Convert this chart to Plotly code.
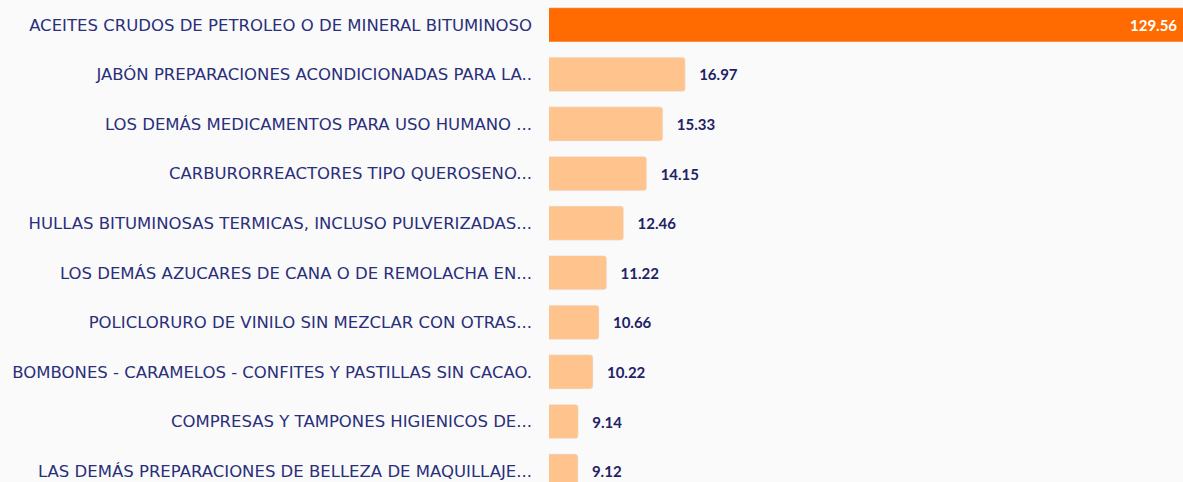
import plotly.graph_objects as go

# Data
products = [
    "ACEITES CRUDOS DE PETROLEO O DE MINERAL BITUMINOSO",
    "JABÓN PREPARACIONES ACONDICIONADAS PARA LA..",
    "LOS DEMÁS MEDICAMENTOS PARA USO HUMANO ...",
    "CARBURORREACTORES TIPO QUEROSENO...",
    "HULLAS BITUMINOSAS TERMICAS, INCLUSO PULVERIZADAS...",
    "LOS DEMÁS AZUCARES DE CANA O DE REMOLACHA EN...",
    "POLICLORURO DE VINILO SIN MEZCLAR CON OTRAS...",
    "BOMBONES - CARAMELOS - CONFITES Y PASTILLAS SIN CACAO.",
    "COMPRESAS Y TAMPONES HIGIENICOS DE...",
    "LAS DEMÁS PREPARACIONES DE BELLEZA DE MAQUILLAJE...",
]
values = [129.56, 16.97, 15.33, 14.15, 12.46, 11.22, 10.66, 10.22, 9.14, 9.12]

TOP_COLOR = "#FF6B00"
REST_COLOR = "#FFC48D"
NAVY = "#1E2266"
LABEL_COLOR = "#2A2F7A"
BG = "#FAFAFA"
LABEL_FONT = "'DejaVu Sans', sans-serif"
VALUE_FONT = "Lato, sans-serif"

colors = [TOP_COLOR] + [REST_COLOR] * (len(values) - 1)
# the top bar runs past the visible range, its value goes in an annotation
labels = [""] + [f"   {v:.2f}" for v in values[1:]]

fig = go.Figure()

fig.add_trace(go.Bar(
    x=values,
    y=products,
    orientation="h",
    marker=dict(color=colors, cornerradius=3),
    text=labels,
    textposition="outside",
    textangle=0,
    textfont=dict(family=VALUE_FONT, size=15, color=NAVY, weight="bold"),
    cliponaxis=True,
    hoverinfo="skip",
))

fig.add_annotation(
    x=1, xref="paper", xanchor="right", xshift=-4,
    y=products[0], yref="y",
    text=f"{values[0]:.2f}",
    showarrow=False,
    font=dict(family=VALUE_FONT, size=15, color="white", weight="bold"),
)

fig.update_layout(
    width=1183,
    height=482,
    margin=dict(l=549, r=0, t=0, b=0),
    paper_bgcolor=BG,
    plot_bgcolor=BG,
    bargap=0.31,
    showlegend=False,
    xaxis=dict(range=[7.0, 53.4], visible=False, showgrid=False, zeroline=False),
    yaxis=dict(
        autorange=False,
        range=[9.22, -0.5],
        showgrid=False,
        zeroline=False,
        showline=False,
        ticks="",
        ticklabelstandoff=16,
        tickfont=dict(family=LABEL_FONT, size=16.5, color=LABEL_COLOR),
    ),
)

fig.write_html(
    "out.html",
    config={"displayModeBar": False},
    post_script="document.body.style.margin='0';document.body.style.background='%s';" % BG,
)
